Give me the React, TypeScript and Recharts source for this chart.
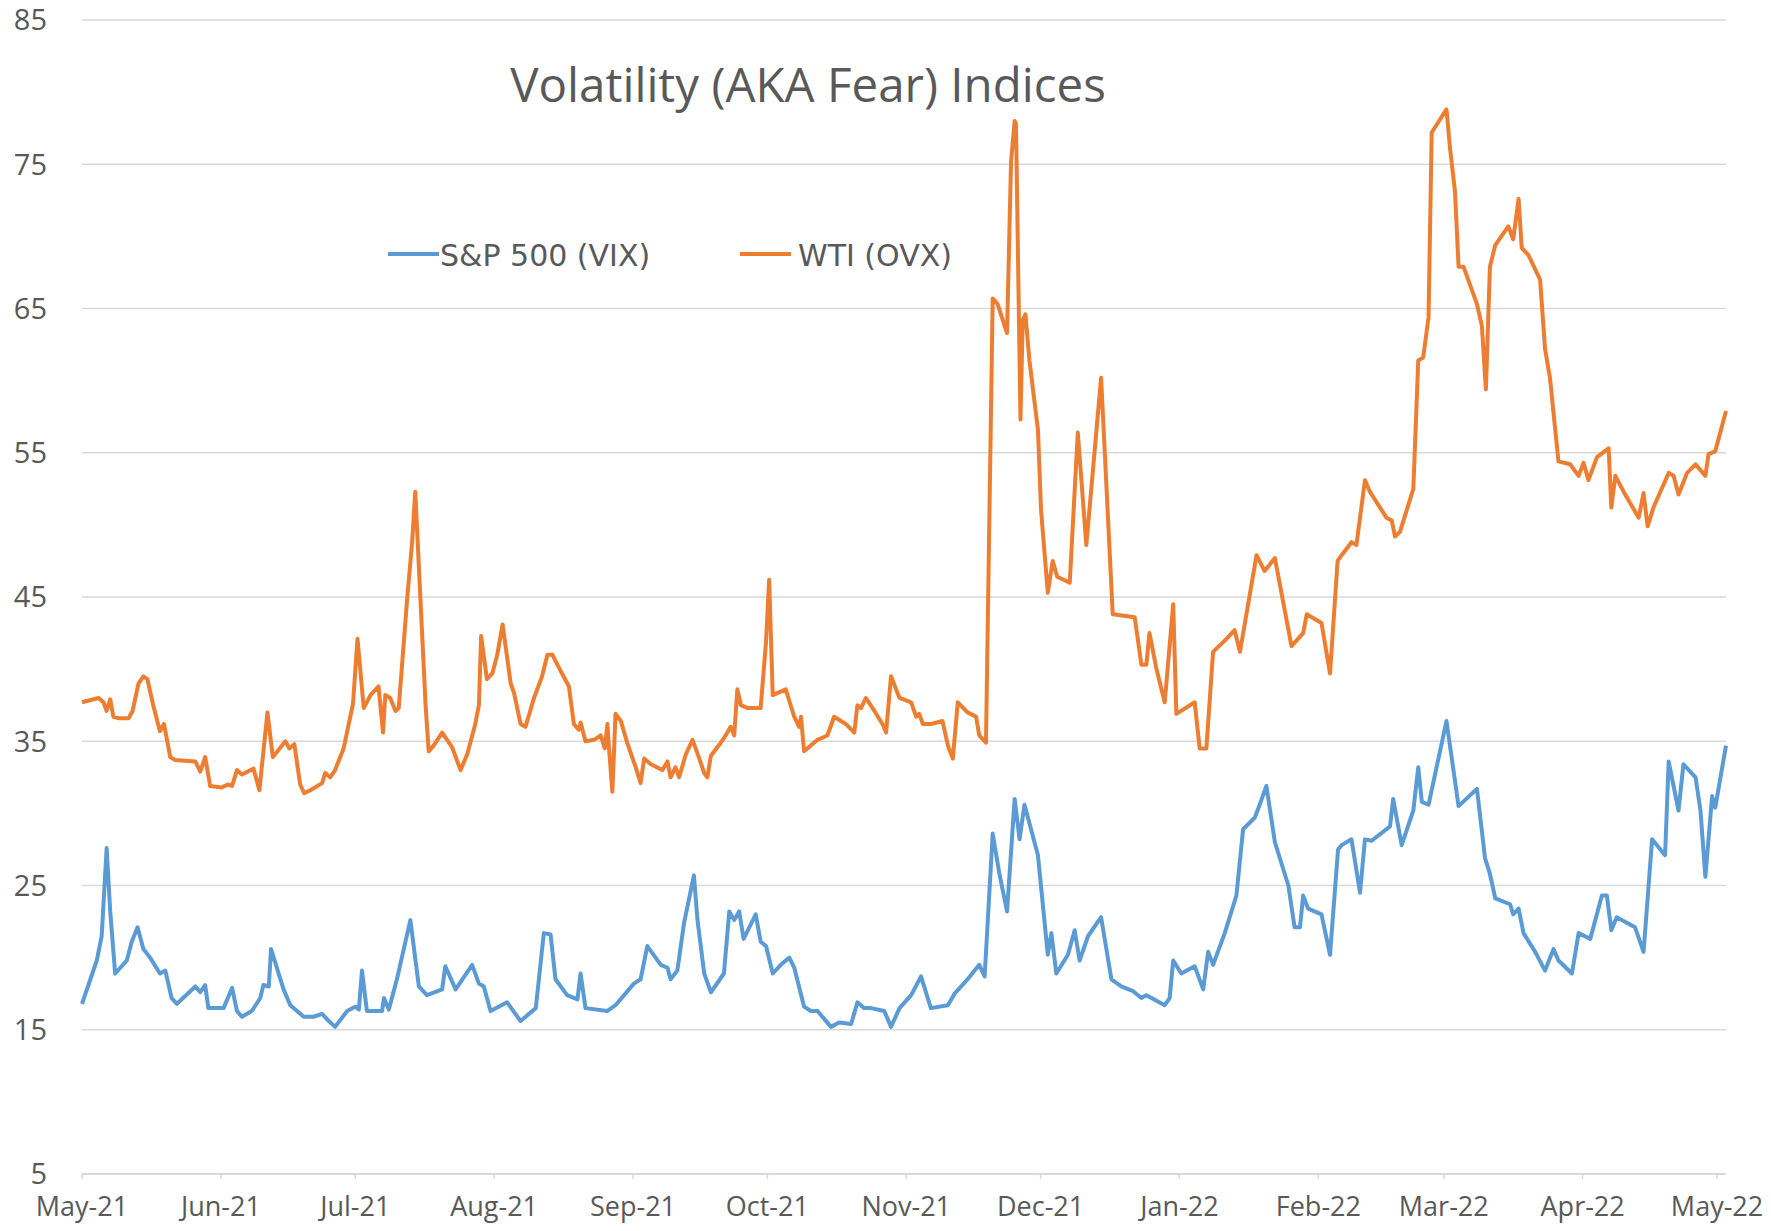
import React from 'react';
import { LineChart, Line, XAxis, YAxis, CartesianGrid, Legend } from 'recharts';

// x = days counted from 7 May 2021, the first trading day on the chart
const vixDays = [
  0, 3.3, 4.4, 5.5, 6.3, 7.4, 10.0, 11.1, 12.4, 13.7, 15.2, 17.4, 18.6, 20.0, 21.2, 25.3, 26.4, 27.5, 28.2, 31.6,
  33.5, 34.6, 35.7, 37.9, 39.8, 40.5, 41.7, 42.2, 43.3, 45.0, 46.5, 49.5, 51.7, 53.6, 55.1, 56.5, 59.2, 61.0, 61.8, 62.5,
  63.6, 67.0, 67.4, 68.5, 70.3, 73.3, 75.2, 77.0, 80.4, 81.1, 83.4, 87.1, 88.6, 89.7, 91.2, 94.9, 97.9, 101.3, 103.1, 104.6,
  105.7, 108.3, 110.6, 111.3, 112.4, 117.3, 119.1, 123.2, 124.7, 126.2, 129.2, 130.7, 131.4, 132.9, 134.4, 136.6, 137.4, 138.9, 140.4, 143.3,
  144.5, 145.6, 146.7, 147.7, 150.4, 151.5, 152.7, 154.2, 156.0, 157.9, 159.0, 161.2, 162.7, 164.2, 167.2, 169.0, 171.7, 173.1, 174.6, 176.1,
  179.1, 180.6, 182.5, 185.1, 187.3, 189.5, 193.3, 194.8, 197.7, 200.3, 201.5, 203.3, 204.8, 206.5, 208.2, 209.3, 210.4, 213.4, 214.9, 215.6,
  216.4, 217.5, 220.1, 221.6, 222.7, 224.6, 227.5, 229.8, 232.0, 234.5, 236.5, 237.6, 241.7, 242.8, 243.6, 245.4, 248.4, 250.3, 251.4, 252.5,
  255.1, 257.7, 259.2, 261.8, 262.9, 264.4, 266.3, 269.3, 270.7, 271.9, 272.6, 273.7, 276.7, 278.6, 280.4, 281.2, 283.4, 285.3, 286.4, 287.9,
  292.0, 292.7, 294.6, 297.2, 298.3, 299.1, 300.6, 304.6, 307.3, 311.4, 313.2, 314.3, 315.5, 318.8, 319.5, 320.7, 321.8, 324.4, 326.6, 328.5,
  329.6, 332.6, 334.1, 336.7, 339.3, 340.4, 341.4, 342.6, 346.7, 348.6, 350.5, 353.4, 354.2, 356.4, 357.5, 360.2, 361.3, 362.4, 363.9, 364.6,
  367,
];
const vixValues = [
  16.8, 19.8, 21.5, 27.6, 23.2, 18.9, 19.8, 21.1, 22.1, 20.6, 20.0, 18.9, 19.1, 17.2, 16.8, 18.0, 17.6, 18.1, 16.5, 16.5,
  17.9, 16.3, 15.9, 16.3, 17.2, 18.1, 18.0, 20.6, 19.5, 17.8, 16.7, 15.9, 15.9, 16.1, 15.6, 15.2, 16.3, 16.6, 16.4, 19.1,
  16.3, 16.3, 17.2, 16.4, 18.5, 22.6, 18.0, 17.4, 17.8, 19.4, 17.8, 19.5, 18.2, 18.0, 16.3, 16.9, 15.6, 16.5, 21.7, 21.6,
  18.5, 17.4, 17.1, 18.9, 16.5, 16.3, 16.7, 18.2, 18.5, 20.8, 19.5, 19.3, 18.5, 19.1, 22.4, 25.7, 22.6, 18.9, 17.6, 18.9,
  23.2, 22.6, 23.2, 21.3, 23.0, 21.1, 20.8, 18.9, 19.5, 20.0, 19.3, 16.6, 16.3, 16.3, 15.2, 15.5, 15.4, 16.9, 16.5, 16.5,
  16.3, 15.2, 16.5, 17.4, 18.7, 16.5, 16.7, 17.5, 18.5, 19.5, 18.7, 28.6, 25.8, 23.2, 31.0, 28.2, 30.6, 27.1, 22.4, 20.2,
  21.7, 18.9, 20.2, 21.9, 19.8, 21.5, 22.8, 18.5, 18.0, 17.7, 17.2, 17.4, 16.7, 17.2, 19.8, 18.9, 19.4, 17.8, 20.4, 19.5,
  21.7, 24.3, 28.9, 29.7, 30.6, 31.9, 28.0, 25.0, 22.1, 22.1, 24.3, 23.4, 23.0, 20.2, 27.5, 27.8, 28.2, 24.5, 28.2, 28.1,
  29.1, 31.0, 27.8, 30.2, 33.2, 30.8, 30.6, 36.4, 30.5, 31.7, 26.9, 25.8, 24.1, 23.7, 23.0, 23.4, 21.7, 20.4, 19.1, 20.6,
  19.8, 18.9, 21.7, 21.3, 24.3, 24.3, 21.9, 22.8, 22.1, 20.4, 28.2, 27.1, 33.6, 30.2, 33.4, 32.5, 30.2, 25.6, 31.2, 30.4,
  34.7,
];

const ovxDays = [
  0, 3.7, 4.8, 5.5, 6.3, 7.0, 8.1, 10.4, 11.3, 12.6, 13.7, 14.6, 15.9, 17.4, 18.3, 19.7, 20.8, 25.3, 26.4, 27.5,
  28.6, 31.2, 32.6, 33.5, 34.6, 35.7, 38.3, 39.6, 41.4, 42.6, 45.4, 46.3, 47.4, 48.7, 49.6, 51.0, 53.6, 54.3, 55.4, 56.5,
  58.4, 60.5, 61.5, 62.9, 64.4, 66.2, 67.2, 67.7, 68.8, 70.0, 70.7, 72.6, 73.7,
  74.4, 75.2, 76.7, 77.4, 78.5, 80.4, 82.6, 84.5, 86.0, 87.8, 88.6, 89.1, 90.4, 91.6, 92.7, 93.9, 95.7, 96.4, 97.9, 99.0,
  100.9, 102.7, 103.9, 105.0, 106.8, 108.7, 109.8, 110.9, 111.3, 112.4, 114.3, 115.8, 116.7, 117.3, 117.6, 118.4, 119.1, 120.3, 121.7, 123.6,
  124.7, 125.5, 127.0, 129.6, 130.7, 131.4, 132.5, 133.3, 134.8, 136.3, 137.8, 138.9, 139.6, 140.4, 142.6, 143.7, 144.8, 145.6, 146.3, 147.1,
  148.6, 151.5, 152.7, 153.4, 154.2, 157.1, 159.0, 160.1, 160.5, 161.2, 162.7, 164.2, 166.4, 167.9, 170.5, 172.4, 173.1, 173.9, 175.0, 176.9,
  178.7, 179.5, 180.6, 182.5, 185.1, 186.2, 186.9, 187.7, 189.5, 192.1, 193.3, 194.4, 195.5, 197.7, 199.6, 200.3, 201.8, 203.3, 204.4, 206.5,
  207.4, 208.2, 208.5, 209.5, 210.0, 210.6, 211.5, 213.4, 214.1, 215.6, 216.7, 217.7, 220.5, 222.3, 224.2, 227.5, 230.1, 235.0, 236.5, 237.6,
  238.3, 239.8, 241.7, 243.6, 244.3, 248.4, 249.5, 251.0, 252.5, 255.5, 257.3, 258.5, 262.2, 264.0, 266.3, 270.0, 272.6, 273.4, 276.7, 278.6,
  280.3, 281.2, 283.4, 284.5, 286.4, 287.5, 291.2, 292.4, 293.1, 294.2, 297.2, 298.3, 299.4, 300.6, 301.3, 304.6, 305.4, 306.5, 307.3, 308.4,
  311.4, 312.5, 313.4, 314.3, 315.5, 318.4, 319.5, 320.7, 321.4, 322.9, 325.5, 326.6, 327.7, 329.6, 332.2, 334.1, 335.2, 336.3, 338.2, 340.8,
  341.4, 342.3, 344.5, 347.5, 348.6, 349.5, 350.8, 354.2, 355.3, 356.4, 358.3, 360.2, 362.4, 363.1, 364.6, 367,
];
const ovxValues = [
  37.7, 38.0, 37.7, 37.1, 37.9, 36.7, 36.6, 36.6, 37.1, 39.0, 39.5, 39.3, 37.5, 35.7, 36.2, 33.9, 33.7, 33.6, 32.9, 33.9,
  31.9, 31.8, 32.0, 31.9, 33.0, 32.7, 33.1, 31.6, 37.0, 33.9, 35.0, 34.5, 34.8, 32.0, 31.4, 31.6, 32.1, 32.8, 32.5, 33.0,
  34.5, 37.6, 42.1, 37.3, 38.2, 38.8, 35.6, 38.2, 38.0, 37.1, 37.3, 44.9, 48.8,
  52.3, 47.1, 37.5, 34.3, 34.7, 35.6, 34.6, 33.0, 34.1, 36.2, 37.5, 42.3, 39.3, 39.7, 41.0, 43.1, 39.0, 38.4, 36.2, 36.0,
  38.0, 39.5, 41.0, 41.0, 39.9, 38.8, 36.2, 35.8, 36.3, 35.0, 35.1, 35.4, 34.5, 36.2, 34.7, 31.5, 36.9, 36.4, 34.9, 33.2,
  32.1, 33.8, 33.4, 33.0, 33.6, 32.5, 33.2, 32.5, 34.1, 35.1, 33.8, 32.8, 32.5, 34.0, 34.9, 35.4, 36.0, 35.4, 38.6, 37.5,
  37.3, 37.3, 41.9, 46.2, 38.2, 38.6, 36.7, 36.0, 36.7, 34.3, 34.7, 35.1, 35.4, 36.7, 36.2, 35.6, 37.5, 37.3, 38.0, 37.1,
  36.2, 35.6, 39.5, 38.0, 37.7, 36.7, 36.9, 36.2, 36.2, 36.4, 34.7, 33.8, 37.7, 37.0, 36.7, 35.4, 34.9, 65.7, 65.3, 63.3,
  75.2, 78.0, 77.8, 57.3, 64.2, 64.6, 61.4, 56.6, 51.0, 45.3, 47.5, 46.4, 46.0, 56.4, 48.6, 60.2, 43.8, 43.6, 40.3, 40.3,
  42.5, 40.1, 37.7, 44.5, 36.9, 37.7, 34.5, 34.5, 41.2, 42.1, 42.7, 41.2, 47.9, 46.8, 47.7, 41.6, 42.5, 43.8, 43.2, 39.7,
  47.5, 47.9, 48.8, 48.6, 53.1, 52.3, 50.5, 50.3, 49.2, 49.5, 52.5, 61.4, 61.6, 64.4, 77.2, 78.8, 76.1, 73.1, 67.9, 67.9,
  65.3, 63.8, 59.4, 67.9, 69.4, 70.7, 69.8, 72.6, 69.2, 68.7, 67.0, 62.2, 60.2, 54.4, 54.2, 53.4, 54.3, 53.1, 54.7, 55.3,
  51.2, 53.4, 52.1, 50.5, 52.2, 49.9, 51.2, 53.6, 53.4, 52.1, 53.6, 54.2, 53.4, 54.9, 55.1, 57.9,
];

// month ticks fall on the 7th of each month
const monthTicks = [0, 31, 61, 92, 123, 153, 184, 214, 245, 276, 304, 335, 365];
const monthLabels = ['May-21', 'Jun-21', 'Jul-21', 'Aug-21', 'Sep-21', 'Oct-21', 'Nov-21', 'Dec-21', 'Jan-22', 'Feb-22', 'Mar-22', 'Apr-22', 'May-22'];
const valueTicks = [5, 15, 25, 35, 45, 55, 65, 75, 85];

const seriesNames = ['S&P 500 (VIX)', 'WTI (OVX)'];
const COLORS = ['#5B9BD5', '#ED7D31'];

const vixData = vixDays.map((day, i) => ({ day, value: vixValues[i] }));
const ovxData = ovxDays.map((day, i) => ({ day, value: ovxValues[i] }));

const TEXT = '#595959';
const GRID = '#D9D9D9';

// legend sits inside the plot, roughly under the title
const legendLineX = [388, 740];
const legendTextX = [440, 798];

function renderLegend(props: any) {
  const payload = props.payload || [];
  return (
    <svg width={1771} height={40} style={{ display: 'block' }}>
      {payload.map((entry: any, i: number) => (
        <g key={entry.value}>
          <line x1={legendLineX[i]} x2={legendLineX[i] + 51} y1={20} y2={20} stroke={entry.color} strokeWidth={4} />
          <text x={legendTextX[i]} y={32} fill={TEXT} fontSize={30} fontFamily="DejaVu Sans">
            {entry.value}
          </text>
        </g>
      ))}
    </svg>
  );
}

export default function App() {
  return (
    <div style={{ margin: -8, width: 1771, height: 1231, overflow: 'hidden', position: 'relative', background: '#fff' }}>
      <LineChart width={1771} height={1231} margin={{ top: 20, right: 45, bottom: 0, left: 0 }}>
        <CartesianGrid vertical={false} stroke={GRID} strokeWidth={1.5} />
        <XAxis
          type="number"
          dataKey="day"
          domain={[0, 367]}
          ticks={monthTicks}
          interval={0}
          tickFormatter={(v: number) => monthLabels[monthTicks.indexOf(v)]}
          height={57}
          axisLine={{ stroke: GRID, strokeWidth: 2 }}
          tickLine={{ stroke: GRID, strokeWidth: 1.5 }}
          tickSize={5}
          tickMargin={18}
          tick={{ fill: TEXT, fontSize: 27, fontFamily: 'Open Sans' }}
        />
        <YAxis
          type="number"
          domain={[5, 85]}
          ticks={valueTicks}
          interval={0}
          width={82}
          axisLine={false}
          tickLine={false}
          tickSize={0}
          tickMargin={35}
          tick={{ fill: TEXT, fontSize: 29, fontFamily: 'Open Sans' }}
        />
        <Legend
          layout="horizontal"
          align="center"
          verticalAlign="middle"
          wrapperStyle={{ left: 0, top: 234, width: 1771, height: 40 }}
          content={renderLegend}
        />
        <Line
          data={vixData}
          dataKey="value"
          name={seriesNames[0]}
          type="linear"
          stroke={COLORS[0]}
          strokeWidth={4}
          strokeLinejoin="round"
          dot={false}
          activeDot={false}
          isAnimationActive={false}
        />
        <Line
          data={ovxData}
          dataKey="value"
          name={seriesNames[1]}
          type="linear"
          stroke={COLORS[1]}
          strokeWidth={4}
          strokeLinejoin="round"
          dot={false}
          activeDot={false}
          isAnimationActive={false}
        />
      </LineChart>
      <div
        style={{
          position: 'absolute',
          left: 0,
          top: 60,
          width: 1616,
          textAlign: 'center',
          fontFamily: 'Open Sans',
          fontSize: 47.5,
          lineHeight: '47.5px',
          color: TEXT,
          whiteSpace: 'nowrap',
        }}
      >
        Volatility (AKA Fear) Indices
      </div>
    </div>
  );
}
